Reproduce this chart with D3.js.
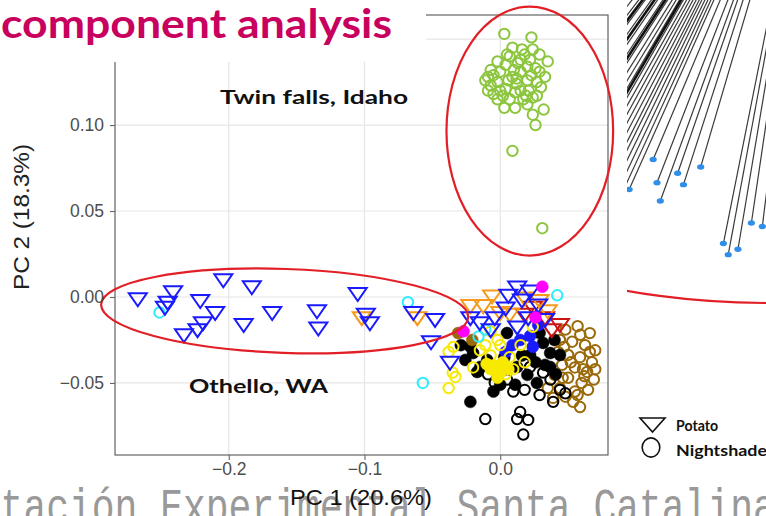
<!DOCTYPE html>
<html>
<head>
<meta charset="utf-8">
<script src="https://cdn.jsdelivr.net/npm/d3@7"></script>
<style>
  html, body { margin: 0; padding: 0; background: #fff; overflow: hidden; }
  svg { display: block; }
</style>
</head>
<body>
<svg id="chart" width="766" height="516"></svg>
<script>
// ---------------- data ----------------
const titleText = "component analysis";
const footerText = "Estación Experimental Santa Catalina";
const xLabel = "PC 1 (20.6%)";
const yLabel = "PC 2 (18.3%)";
const xTicks = [-0.2, -0.1, 0.0];
const yTicks = [-0.05, 0.00, 0.05, 0.10];
const yGrid = [-0.05, 0.00, 0.05, 0.10, 0.15];
const legendLabels = ["Potato", "Nightshade"];
const regionLabels = ["Twin falls, Idaho", "Othello, WA"];

// PC1 / PC2 scores per group
const twinFallsNightshade = [
  [0.003,0.153],[0.023,0.151],[0.009,0.145],[0.024,0.144],[-0.002,0.137],[0.007,0.140],
  [0.015,0.138],[0.029,0.141],[0.035,0.137],[-0.007,0.132],[0.000,0.131],[0.010,0.132],
  [0.020,0.134],[0.029,0.131],[-0.011,0.126],[-0.002,0.125],[0.006,0.126],[0.012,0.124],
  [0.020,0.126],[0.027,0.125],[-0.009,0.120],[0.000,0.120],[0.011,0.119],[0.021,0.120],
  [0.027,0.117],[-0.002,0.115],[0.007,0.115],[0.017,0.115],[0.011,0.110],[0.020,0.112],
  [0.032,0.109],[0.024,0.106],[0.026,0.100],[0.009,0.085],[0.031,0.040],[-0.005,0.129],
  [0.004,0.135],[0.015,0.131],[0.022,0.138],[0.004,0.121],[0.015,0.120],[0.024,0.116],
  [0.002,0.117],[-0.007,0.123],[0.012,0.127],[0.026,0.133],[0.016,0.144],
  [0.005,0.141],[0.018,0.141],[-0.005,0.118],[0.009,0.128],[0.019,0.117],[0.030,0.122],
  [0.013,0.136],[-0.009,0.128],[0.023,0.129],[0.003,0.110],[0.033,0.128]
];
const othelloPotato = [
  [-0.267,-0.001],[-0.241,0.003],[-0.245,-0.003],[-0.247,-0.006],[-0.221,-0.002],
  [-0.210,-0.009],[-0.219,-0.015],[-0.223,-0.019],[-0.233,-0.022],[-0.204,0.010],
  [-0.183,0.006],[-0.189,-0.016],[-0.168,-0.009],[-0.135,-0.008],[-0.134,-0.018],
  [-0.105,0.002],[-0.099,-0.010],[-0.096,-0.015],[-0.064,-0.009],[-0.048,-0.013],
  [-0.051,-0.026],[-0.037,-0.038],
  [0.0125,0.0058],[0.022,0.0035],[0.016,-0.0017],[0.004,-0.0064],[0.028,-0.0047],
  [-0.004,-0.012],[0.0125,-0.0174],[-0.015,-0.015],[-0.022,-0.012],[0.033,-0.013],
  [0.0206,-0.012],[0.006,0.001],[-0.007,-0.019]
];
const orangePotato = [
  [-0.102,-0.012],[-0.061,-0.012],[-0.0125,-0.005],[0.007,-0.010],[0.035,-0.008],
  [-0.006,0.0006],[0.018,-0.0006],[0.000,-0.009],[0.029,-0.002],[-0.022,-0.005]
];
const redPotato = [
  [0.044,-0.016],[0.024,-0.006],[0.033,-0.012],[0.038,-0.019],[0.018,-0.010]
];
const magentaNightshade = [[0.031,0.006],[-0.027,-0.020],[0.026,-0.012]];
const cyanNightshade = [
  [-0.251,-0.009],[-0.068,-0.003],[-0.057,-0.050],[0.042,0.001],[-0.016,-0.023],[-0.011,-0.019]
];
const yellowNightshade = [
  [-0.038,-0.032],[-0.033,-0.0465],[-0.038,-0.053],[-0.0345,-0.029],[-0.007,-0.020],
  [0.024,-0.0174],[0.000,-0.028],[0.007,-0.035],[-0.015,-0.031],[-0.007,-0.034],
  [0.0096,-0.042],[-0.020,-0.041],[-0.035,-0.044],[-0.002,-0.025],[-0.011,-0.028],
  [0.015,-0.028],[0.004,-0.045],[0.018,-0.038]
];
const yellowSolid = [
  [-0.004,-0.040],[0.002,-0.038],[0.000,-0.044],[-0.007,-0.042],[0.006,-0.042],
  [-0.002,-0.047],[-0.010,-0.039]
];
const blackSolid = [
  [-0.022,-0.061],[-0.020,-0.0326],[-0.0147,-0.0407],[-0.022,-0.029],[-0.0096,-0.0366],
  [-0.017,-0.0436],[0.005,-0.021],[0.029,-0.021],[0.0316,-0.0267],[0.0368,-0.0326],
  [0.0125,-0.0407],[0.020,-0.0453],[0.027,-0.050],[0.0368,-0.0407],[0.044,-0.0337],
  [0.022,-0.0337],[-0.0257,-0.0366],[0.000,-0.051],[0.011,-0.051],[0.040,-0.025],
  [0.033,-0.0395],[-0.029,-0.028],
  [0.003,-0.035],[0.016,-0.034],[0.026,-0.038],[-0.005,-0.055],[0.041,-0.045]
];
const blackNightshade = [
  [-0.011,-0.071],[0.0147,-0.0669],[0.0125,-0.071],[0.0206,-0.0715],[0.017,-0.080],
  [0.018,-0.054],[0.044,-0.054],[0.039,-0.061],[0.048,-0.056],[-0.004,-0.050],
  [0.005,-0.048],[0.022,-0.0407],[0.0316,-0.044],[-0.009,-0.045],[0.029,-0.057],
  [0.0096,-0.055],[0.037,-0.048]
];
const brownNightshade = [
  [0.048,-0.019],[0.057,-0.017],[0.066,-0.021],[0.044,-0.025],[0.053,-0.026],
  [0.0625,-0.028],[0.070,-0.031],[0.0426,-0.032],[0.050,-0.0337],[0.0588,-0.035],
  [0.0676,-0.038],[0.0456,-0.0395],[0.055,-0.041],[0.064,-0.0436],[0.040,-0.0453],
  [0.050,-0.047],[0.060,-0.050],[0.069,-0.048],[0.044,-0.053],[0.055,-0.055],
  [0.0647,-0.054],[0.0537,-0.061],[0.0588,-0.064],[0.039,-0.0587],[0.035,-0.053],
  [0.047,-0.029],[0.059,-0.022],[0.061,-0.042],[0.052,-0.038],[0.046,-0.047],
  [0.066,-0.032],[0.057,-0.057],[0.048,-0.058],[0.062,-0.046],[0.070,-0.042]
];
const brownSolid = [[-0.0206,-0.025],[-0.031,-0.021]];
const blueSolid = [
  [0.024,-0.029],[0.022,-0.0227],[0.0147,-0.025],[0.004,-0.032],[0.028,-0.0163],[0.009,-0.028]
];

// confidence ellipses: [centre x, centre y, half-width, half-height, tilt°] in score units
const ellipseTwinFalls = [0.0218, 0.0965, 0.0614, 0.0724, 0];
const ellipseOthello = [-0.1588, -0.0081, 0.1353, 0.0244, 2];

// fan of terminal branches from the neighbouring tree: [angle°, tip radius]
const treeTips = [
  [22.8,428],[24.1,465],[21.2,448],[20.0,464],[19.1,432],[17.9,441],[16.4,419],
  [11.3,488],[10.5,498],[9.5,491],[8.4,463],[7.0,465]
];
const treeBranches = [
  24.7,25.3,25.9,26.5,27.0,27.6,28.2,28.8,29.4,30.0,30.7,31.3,32.0,32.8,33.6,34.5,35.5,36.5,37.5,38.5
];
const treeHeavyBranches = [30.4, 33.2, 35.0, 36.9];

// ---------------- layout ----------------
const svg = d3.select("#chart");
const panel = { left: 115, right: 608, top: 15, bottom: 455 };

const x = d3.scaleLinear().domain([-0.2838, 0.0794]).range([panel.left, panel.right]);
const y = d3.scaleLinear().domain([-0.0919, 0.1640]).range([panel.bottom, panel.top]);

const colors = {
  green: "#8cc63e", blue: "#1a1aff", orange: "#f59a1b", red: "#cc1414",
  magenta: "#ff00ff", cyan: "#2cecff", yellow: "#f7ea00", black: "#000000",
  brown: "#9a6a0a", ellipse: "#e21f26"
};

// footer line of the slide, partly cut by the bottom edge
svg.append("text")
  .attr("transform", "translate(-45,523) scale(1,1.3)")
  .attr("font-family", "Liberation Mono, DejaVu Sans Mono, monospace")
  .attr("font-size", 38)
  .attr("fill", "#999")
  .text(footerText);

// ---------- neighbouring dendrogram fragment ----------
const defs = svg.append("defs");
defs.append("clipPath").attr("id", "treeClip")
  .append("rect").attr("x", 627).attr("y", 0).attr("width", 139).attr("height", 516);
defs.append("clipPath").attr("id", "arcClip")
  .append("rect").attr("x", 627).attr("y", 260).attr("width", 139).attr("height", 100);
defs.append("clipPath").attr("id", "panelClip")
  .append("rect").attr("x", panel.left).attr("y", panel.top)
  .attr("width", panel.right - panel.left).attr("height", panel.bottom - panel.top);

const tree = svg.append("g").attr("clip-path", "url(#treeClip)");
const focus = { x: 819, y: -235 };
const polar = (deg, r) => {
  const a = deg * Math.PI / 180;
  return [focus.x - r * Math.sin(a), focus.y + r * Math.cos(a)];
};
const branchLine = d3.line();
tree.selectAll("path.branch")
  .data(treeBranches.map(a => [a, 560]).concat(treeTips))
  .join("path")
  .attr("class", "branch")
  .attr("d", d => branchLine([polar(d[0], 200), polar(d[0], d[1])]))
  .attr("stroke", "#3a3a3a").attr("stroke-width", 1.2).attr("fill", "none");
tree.selectAll("path.heavy")
  .data(treeHeavyBranches)
  .join("path")
  .attr("class", "heavy")
  .attr("d", a => branchLine([polar(a, 200), polar(a, 420)]))
  .attr("stroke", "#111").attr("stroke-width", 2.6).attr("fill", "none");
tree.selectAll("ellipse.tip")
  .data(treeTips)
  .join("ellipse")
  .attr("class", "tip")
  .attr("cx", d => polar(d[0], d[1])[0])
  .attr("cy", d => polar(d[0], d[1])[1])
  .attr("rx", 3.6).attr("ry", 2.7)
  .attr("fill", "#2f8ee8");
// lower edge of the neighbouring confidence ellipse
svg.append("g").attr("clip-path", "url(#arcClip)")
  .append("ellipse")
  .attr("cx", 770).attr("cy", 202).attr("rx", 300).attr("ry", 101)
  .attr("fill", "none").attr("stroke", colors.ellipse).attr("stroke-width", 2.2);

// ---------- PCA panel ----------
const plot = svg.append("g");
plot.append("rect")
  .attr("x", panel.left).attr("y", panel.top)
  .attr("width", panel.right - panel.left).attr("height", panel.bottom - panel.top)
  .attr("fill", "#fff");

const grid = plot.append("g").attr("clip-path", "url(#panelClip)");
grid.selectAll("line.gx").data(xTicks).join("line")
  .attr("x1", d => x(d)).attr("x2", d => x(d))
  .attr("y1", panel.top).attr("y2", panel.bottom)
  .attr("stroke", "#e6e6e6").attr("stroke-width", 1.2);
grid.selectAll("line.gy").data(yGrid).join("line")
  .attr("y1", d => y(d)).attr("y2", d => y(d))
  .attr("x1", panel.left).attr("x2", panel.right)
  .attr("stroke", "#e6e6e6").attr("stroke-width", 1.2);

function triDown(cx, cy, w, h) {
  const p = d3.path();
  p.moveTo(cx - w / 2, cy - h * 0.42);
  p.lineTo(cx + w / 2, cy - h * 0.42);
  p.lineTo(cx, cy + h * 0.58);
  p.closePath();
  return p.toString();
}

const series = [
  { data: brownNightshade, shape: "circle", color: colors.brown, solid: false },
  { data: blackSolid, shape: "circle", color: colors.black, solid: true },
  { data: blackNightshade, shape: "circle", color: colors.black, solid: false },
  { data: blueSolid, shape: "circle", color: colors.blue, solid: true },
  { data: brownSolid, shape: "circle", color: colors.brown, solid: true },
  { data: yellowNightshade, shape: "circle", color: colors.yellow, solid: false },
  { data: yellowSolid, shape: "circle", color: colors.yellow, solid: true },
  { data: cyanNightshade, shape: "circle", color: colors.cyan, solid: false },
  { data: redPotato, shape: "triangle", color: colors.red, solid: false },
  { data: orangePotato, shape: "triangle", color: colors.orange, solid: false },
  { data: othelloPotato, shape: "triangle", color: colors.blue, solid: false },
  { data: magentaNightshade, shape: "circle", color: colors.magenta, solid: true },
  { data: twinFallsNightshade, shape: "circle", color: colors.green, solid: false }
];

const marks = plot.append("g");
series.forEach(s => {
  const g = marks.append("g");
  if (s.shape === "circle") {
    g.selectAll("circle").data(s.data).join("circle")
      .attr("cx", d => x(d[0])).attr("cy", d => y(d[1]))
      .attr("r", s.solid ? 6 : 5.2)
      .attr("fill", s.solid ? s.color : "none")
      .attr("stroke", s.color)
      .attr("stroke-width", s.solid ? 0.5 : 2);
  } else {
    g.selectAll("path").data(s.data).join("path")
      .attr("d", d => triDown(x(d[0]), y(d[1]), 18, 13))
      .attr("fill", "none")
      .attr("stroke", s.color)
      .attr("stroke-width", 2)
      .attr("stroke-linejoin", "miter");
  }
});

// panel border
plot.append("rect")
  .attr("x", panel.left).attr("y", panel.top)
  .attr("width", panel.right - panel.left).attr("height", panel.bottom - panel.top)
  .attr("fill", "none").attr("stroke", "#555").attr("stroke-width", 1.1);

// axes
const xAxis = d3.axisBottom(x).tickValues(xTicks).tickFormat(d3.format(".1f"))
  .tickSize(5).tickPadding(3);
const yAxis = d3.axisLeft(y).tickValues(yTicks).tickFormat(d3.format(".2f"))
  .tickSize(5).tickPadding(6);
const gx = svg.append("g").attr("transform", `translate(0,${panel.bottom})`).call(xAxis);
const gy = svg.append("g").attr("transform", `translate(${panel.left},0)`).call(yAxis);
[gx, gy].forEach(g => {
  g.select(".domain").remove();
  g.selectAll(".tick line").attr("stroke", "#666").attr("stroke-width", 1.1);
  g.selectAll(".tick text")
    .attr("fill", "#4d4d4d")
    .attr("font-family", "Liberation Sans, Arial, sans-serif")
    .attr("font-size", 17.5);
});

// confidence ellipses
function drawEllipse(e) {
  plot.append("ellipse")
    .attr("transform", `translate(${x(e[0])},${y(e[1])}) rotate(${e[4]})`)
    .attr("rx", x(e[0] + e[2]) - x(e[0]))
    .attr("ry", y(e[1]) - y(e[1] + e[3]))
    .attr("fill", "none")
    .attr("stroke", colors.ellipse)
    .attr("stroke-width", 2.2);
}
drawEllipse(ellipseTwinFalls);
drawEllipse(ellipseOthello);

// region labels
const lab = svg.append("g")
  .attr("font-family", "Lato, Open Sans, sans-serif")
  .attr("font-weight", 700).attr("fill", "#111");
lab.append("text").attr("x", 220).attr("y", 104).attr("font-size", 19)
  .attr("textLength", 188).attr("lengthAdjust", "spacingAndGlyphs").text(regionLabels[0]);
lab.append("text").attr("x", 189).attr("y", 393).attr("font-size", 19)
  .attr("textLength", 139).attr("lengthAdjust", "spacingAndGlyphs").text(regionLabels[1]);

// axis titles
svg.append("text")
  .attr("x", 361).attr("y", 505).attr("text-anchor", "middle")
  .attr("font-family", "Liberation Sans, Arial, sans-serif").attr("font-size", 22)
  .attr("fill", "#111")
  .attr("textLength", 142).attr("lengthAdjust", "spacingAndGlyphs")
  .text(xLabel);
svg.append("text")
  .attr("transform", "translate(29,217) rotate(-90)")
  .attr("text-anchor", "middle")
  .attr("font-family", "Liberation Sans, Arial, sans-serif").attr("font-size", 22)
  .attr("fill", "#222")
  .attr("textLength", 146).attr("lengthAdjust", "spacingAndGlyphs")
  .text(yLabel);

// slide title banner
svg.append("rect").attr("x", 0).attr("y", 0).attr("width", 426).attr("height", 62).attr("fill", "#fff");
svg.append("text")
  .attr("x", 1).attr("y", 38)
  .attr("font-family", "Lato, Open Sans, sans-serif").attr("font-weight", 700)
  .attr("font-size", 40).attr("fill", "#c8005e")
  .attr("textLength", 391).attr("lengthAdjust", "spacingAndGlyphs")
  .text(titleText);

// legend
const leg = svg.append("g");
leg.append("path")
  .attr("d", triDown(652.5, 423.9, 25, 14))
  .attr("fill", "none").attr("stroke", "#111").attr("stroke-width", 1.6);
leg.append("ellipse")
  .attr("cx", 651).attr("cy", 447.5).attr("rx", 8.8).attr("ry", 9.6)
  .attr("fill", "none").attr("stroke", "#111").attr("stroke-width", 1.6);
leg.selectAll("text").data(legendLabels).join("text")
  .attr("x", 676).attr("y", (d, i) => 431 + i * 25)
  .attr("font-family", "Lato, Open Sans, sans-serif").attr("font-weight", 700)
  .attr("font-size", 14.5).attr("fill", "#111")
  .attr("textLength", (d, i) => i === 0 ? 42 : 91)
  .attr("lengthAdjust", "spacingAndGlyphs")
  .text(d => d);
</script>
</body>
</html>
